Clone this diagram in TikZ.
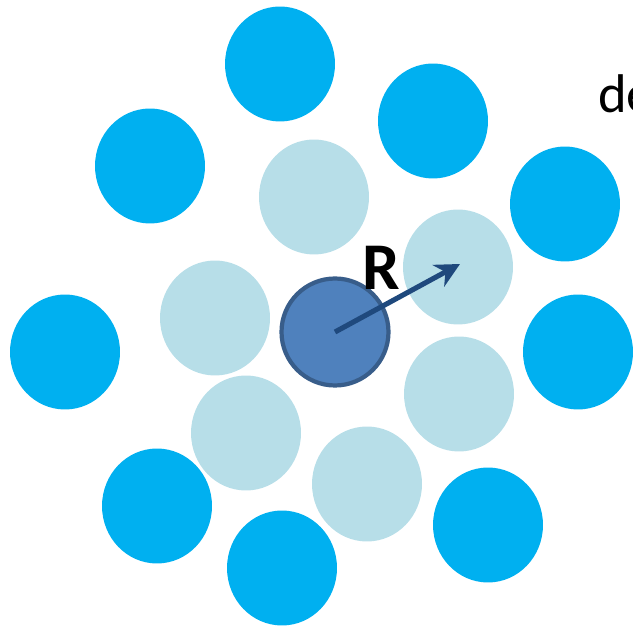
\documentclass[tikz,border=0pt]{standalone}
\usepackage{fontspec}
\setmainfont{Carlito}
\usetikzlibrary{shapes.geometric,arrows.meta}
\definecolor{outerblue}{HTML}{00B0F0}
\definecolor{innerblue}{HTML}{B7DEE8}
\definecolor{centreblue}{HTML}{4F81BD}
\definecolor{centreline}{HTML}{385D8A}
\definecolor{arrowblue}{HTML}{1F497D}

\begin{document}
\begin{tikzpicture}[
  x=0.02cm, y=-0.02cm,
  ball/.style={ellipse, minimum width=2.2cm, minimum height=2.3cm, inner sep=0pt},
  outer/.style={ball, fill=outerblue},
  inner/.style={ball, fill=innerblue},
  every node/.style={}]
\useasboundingbox (0,0) rectangle (633,628);
% outer shell
\node[outer] (o1) at (280,64) {};
\node[outer] (o2) at (433,121) {};
\node[outer] (o3) at (150,166) {};
\node[outer] (o4) at (565,204) {};
\node[outer] (o5) at (65,352) {};
\node[outer] (o6) at (578,352) {};
\node[outer] (o7) at (157,506) {};
\node[outer] (o8) at (488,525) {};
\node[outer] (o9) at (282,568) {};
% first shell
\node[inner] (i1) at (314,197) {};
\node[inner] (i2) at (458,267) {};
\node[inner] (i3) at (215,318) {};
\node[inner] (i4) at (459,394) {};
\node[inner] (i5) at (246,433) {};
\node[inner] (i6) at (367,484) {};
% central particle
\node[circle, minimum size=2.14cm, fill=centreblue, draw=centreline, line width=2.4pt] (c) at (335,332) {};
\coordinate (tip) at (460,264);
\draw[arrowblue, line width=2.9pt, -{Stealth[length=14pt,width=14pt]}] (c.center) -- (tip);
\node[font=\fontsize{38}{40}\selectfont\bfseries] (R) at (381,268) {R};
\node[anchor=base west, inner sep=0pt, font=\fontsize{31}{34}\selectfont] (de) at (598,113) {de};
\end{tikzpicture}
\end{document}
